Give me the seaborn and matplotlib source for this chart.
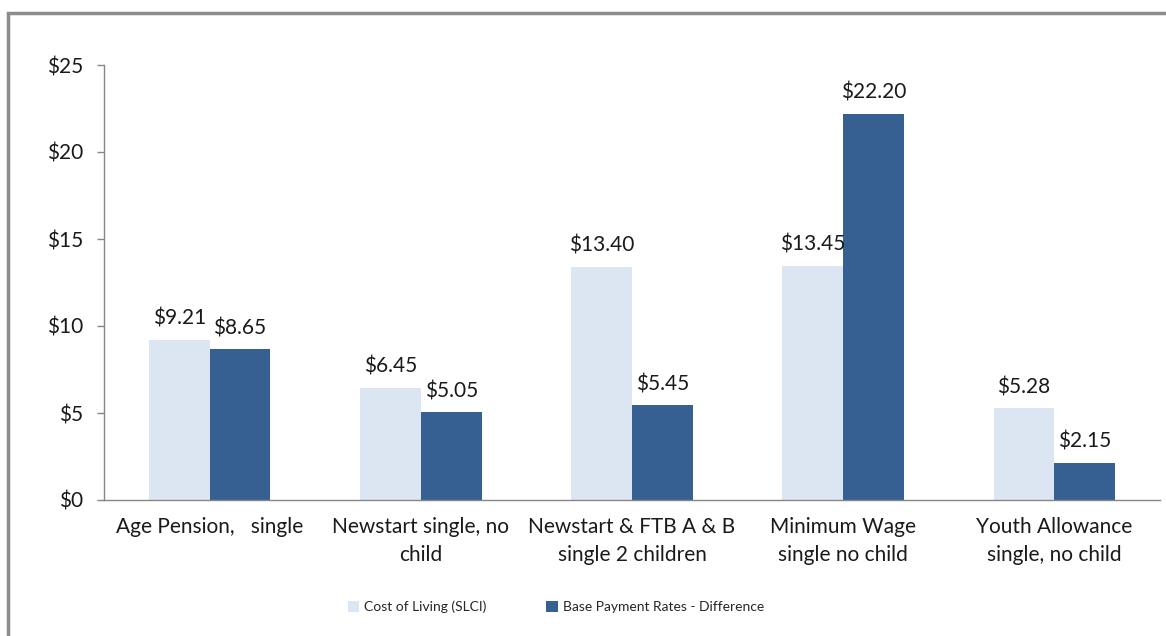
import matplotlib
matplotlib.use("Agg")
import matplotlib.pyplot as plt
import seaborn as sns
import pandas as pd
from matplotlib.patches import Rectangle
from matplotlib.ticker import FixedLocator

categories = ["Age Pension,   single", "Newstart single, no\nchild",
              "Newstart & FTB A & B\nsingle 2 children", "Minimum Wage\nsingle no child",
              "Youth Allowance\nsingle, no child"]
series_names = ["Cost of Living (SLCI)", "Base Payment Rates - Difference"]
cost_of_living = [9.21, 6.45, 13.40, 13.45, 5.28]
base_payment = [8.65, 5.05, 5.45, 22.20, 2.15]
y_ticks = [0, 5, 10, 15, 20, 25]
colors = ["#DCE6F2", "#376092"]

df = pd.DataFrame({
    "category": categories * 2,
    "series": [series_names[0]] * len(categories) + [series_names[1]] * len(categories),
    "value": cost_of_living + base_payment,
})

sns.set_theme(style="white")
plt.rcParams["font.family"] = ["Lato", "DejaVu Sans"]

fig = plt.figure(figsize=(11.66, 6.36), dpi=100)
ax = fig.add_axes([104/1166, 1-500/636, (1160-104)/1166, (500-65)/636])

sns.barplot(data=df, x="category", y="value", hue="series", order=categories,
            hue_order=series_names, palette=colors, width=0.575, gap=0,
            saturation=1, linewidth=0, edgecolor="none", ax=ax, legend=True)

for cont in ax.containers:
    ax.bar_label(cont, labels=[f"${v:.2f}" for v in cont.datavalues],
                 padding=8, fontsize=15, color="#1a1a1a")

ax.set_ylim(0, 25)
ax.set_xlim(-0.5, len(categories) - 0.5)
ax.set_yticks(y_ticks)
ax.set_yticklabels([f"${v}" for v in y_ticks], fontsize=15, color="#1a1a1a")
ax.set_xticklabels(categories, fontsize=15, color="#1a1a1a", linespacing=1.55)
ax.tick_params(axis="x", which="major", length=0, pad=12)
ax.xaxis.set_minor_locator(FixedLocator([i - 0.5 for i in range(len(categories) + 1)]))
ax.tick_params(axis="x", which="minor", length=6, color="#868686", width=1, direction="out")
ax.tick_params(axis="y", length=5, color="#868686", width=1, direction="out", left=True, pad=10)
ax.set_xlabel("")
ax.set_ylabel("")
for s in ["top", "right"]:
    ax.spines[s].set_visible(False)
for s in ["left", "bottom"]:
    ax.spines[s].set_color("#868686")
    ax.spines[s].set_linewidth(1)

handles, labels = ax.get_legend_handles_labels()
ax.get_legend().remove()
fig.legend(handles, labels, loc="center", bbox_to_anchor=(556/1166, 1-607/636), ncol=2,
           frameon=False, fontsize=10, handlelength=0.8, handleheight=0.8,
           columnspacing=4.3, handletextpad=0.4)

fig.patches.append(Rectangle((8/1166, -0.1), 1.2, 1-13/636+0.1, transform=fig.transFigure,
                             fill=False, edgecolor="#8c8c8c", linewidth=2.5, clip_on=False))

fig.savefig("out.png", dpi=100)
